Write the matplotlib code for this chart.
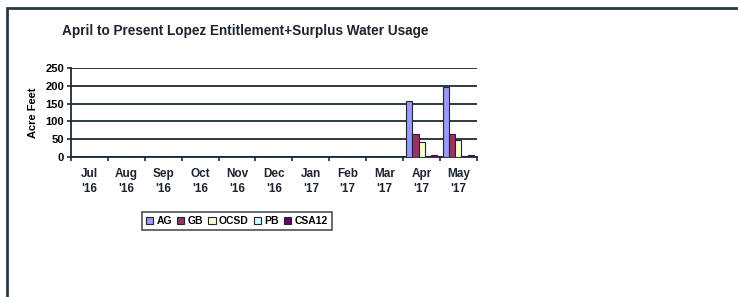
import numpy as np
import matplotlib.pyplot as plt
from matplotlib.patches import Rectangle

months = ["Jul\n'16", "Aug\n'16", "Sep\n'16", "Oct\n'16", "Nov\n'16", "Dec\n'16",
          "Jan\n'17", "Feb\n'17", "Mar\n'17", "Apr\n'17", "May\n'17"]
series = ["AG", "GB", "OCSD", "PB", "CSA12"]
ag = [0, 0, 0, 0, 0, 0, 0, 0, 0, 157, 196]
gb = [0, 0, 0, 0, 0, 0, 0, 0, 0, 66, 66]
ocsd = [0, 0, 0, 0, 0, 0, 0, 0, 0, 43, 48]
pb = [0, 0, 0, 0, 0, 0, 0, 0, 0, 2, 2]
csa12 = [0, 0, 0, 0, 0, 0, 0, 0, 0, 6, 6]
colors = ["#9999ff", "#993366", "#ffffcc", "#ccffff", "#660066"]

plt.rcParams['font.family'] = ['Liberation Sans', 'DejaVu Sans']
fig = plt.figure(figsize=(7.38, 2.97), dpi=100)
ax = fig.add_axes([0.0962, 0.471, 0.55, 0.30])

x = np.arange(len(months))
w = 0.165
for i, vals in enumerate([ag, gb, ocsd, pb, csa12]):
    ax.bar(x - 2 * w + i * w, vals, w, color=colors[i], edgecolor="#1c2430",
           linewidth=0.8, label=series[i], zorder=3)

ax.set_xlim(-0.5, len(months) - 0.5)
ax.set_ylim(0, 250)
ax.set_yticks([0, 50, 100, 150, 200, 250])
ax.grid(axis="y", color="#1c2a36", linewidth=1.3, zorder=0)
for s in ["top", "right"]:
    ax.spines[s].set_visible(False)
for s in ["left", "bottom"]:
    ax.spines[s].set_color("#1c2a36")
    ax.spines[s].set_linewidth(1.3)
ax.set_xticks(np.arange(len(months) + 1) - 0.5)
ax.set_xticklabels([])
ax.set_xticks(x, minor=True)
ax.set_xticklabels(months, minor=True, fontsize=8.5, fontweight="bold", color="#1c2430",
                   linespacing=1.35)
ax.tick_params(axis="x", which="minor", length=0, pad=8)
ax.tick_params(axis="x", which="major", length=3, width=1.2, color="#1c2a36")
ax.tick_params(axis="y", length=3, width=1.2, color="#1c2a36", labelsize=8, pad=2)
for t in ax.get_yticklabels():
    t.set_fontweight("bold")
ax.set_ylabel("Acre Feet", fontsize=8, fontweight="bold", labelpad=5)

fig.text(0.332, 0.897, "April to Present Lopez Entitlement+Surplus Water Usage",
         ha="center", va="center", fontsize=9.8, fontweight="bold", color="#1c2430")

leg = fig.legend(loc="center", bbox_to_anchor=(0.321, 0.256), ncol=5,
                 prop={"weight": "bold", "size": 7.5}, frameon=True, fancybox=False,
                 handlelength=0.7, handleheight=0.7, handletextpad=0.3,
                 columnspacing=0.5, borderpad=0.4, borderaxespad=0)
leg.get_frame().set_edgecolor("#1c2430")
leg.get_frame().set_linewidth(1.2)

fig.patches.append(Rectangle((7 / 738, -0.02), 1.0, 1 - 8 / 297 + 0.02,
                             transform=fig.transFigure, fill=False,
                             edgecolor="#2a3a44", linewidth=2.0))

fig.savefig("out.png", dpi=100)
